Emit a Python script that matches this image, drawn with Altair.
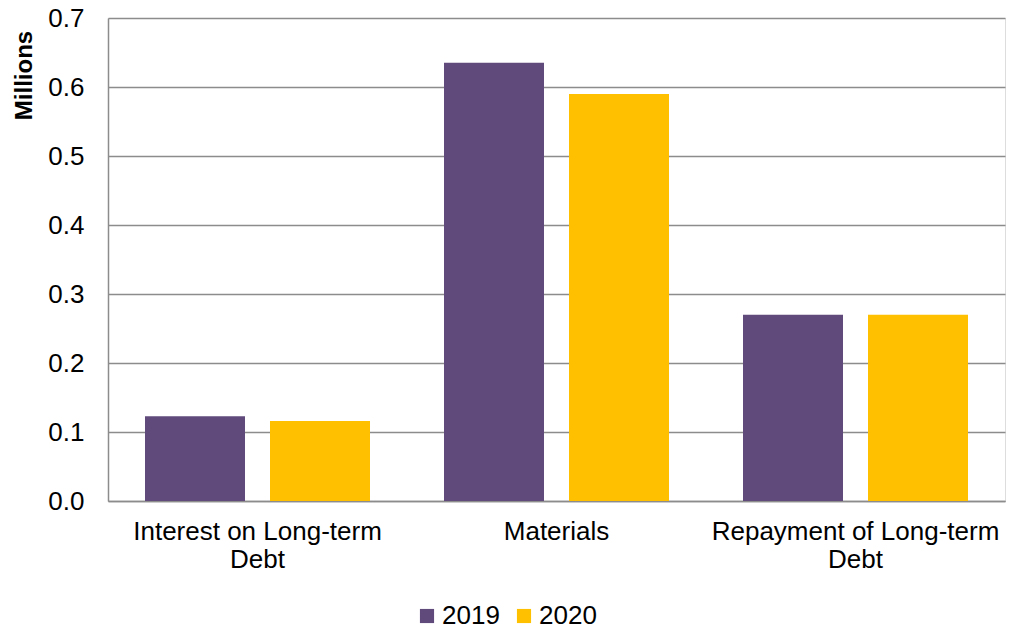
import altair as alt
import pandas as pd

categories = ["Interest on Long-term|Debt", "Materials", "Repayment of Long-term|Debt"]
years = ["2019", "2020"]
values_2019 = [0.123, 0.635, 0.270]
values_2020 = [0.116, 0.590, 0.270]

rows = []
for c, a, b in zip(categories, values_2019, values_2020):
    rows.append({"cat": c, "year": "2019", "value": a})
    rows.append({"cat": c, "year": "2020", "value": b})
df = pd.DataFrame(rows)

font = "Liberation Sans"

chart = alt.Chart(df).mark_bar().encode(
    x=alt.X("cat:N", sort=categories, title=None,
            scale=alt.Scale(paddingInner=0, paddingOuter=0),
            axis=alt.Axis(labelAngle=0, labelExpr="split(datum.label, '|')",
                          labelFontSize=26, labelFont=font, labelColor="#000000",
                          labelPadding=17, labelLineHeight=28, ticks=False,
                          labelLimit=400,
                          domainColor="#8c8c8c", domainWidth=1.5, grid=False,
                          labelBaseline="top")),
    xOffset=alt.XOffset("year:N", sort=years,
                        scale=alt.Scale(paddingInner=0.2, paddingOuter=0.296)),
    y=alt.Y("value:Q", title="Millions",
            scale=alt.Scale(domain=[0, 0.7], nice=False),
            axis=alt.Axis(values=[0, 0.1, 0.2, 0.3, 0.4, 0.5, 0.6, 0.7], format=".1f",
                          labelFontSize=26, labelFont=font, labelColor="#000000",
                          labelPadding=24, ticks=False, domainColor="#8c8c8c",
                          domainWidth=1.5, gridColor="#8c8c8c", gridWidth=1.5,
                          titleFont=font, titleFontSize=24, titleFontWeight="bold",
                          titleColor="#000000", titleAngle=-90, titleX=-84, titleY=57,
                          titleAlign="center", titleBaseline="middle")),
    color=alt.Color("year:N", sort=years,
                    scale=alt.Scale(domain=years, range=["#604A7B", "#FFC000"]),
                    legend=alt.Legend(title=None, orient="none", direction="horizontal",
                                      legendX=306, legendY=585, symbolType="square",
                                      symbolSize=200, symbolStrokeWidth=0,
                                      labelFontSize=26, labelFont=font,
                                      labelColor="#000000", columnPadding=11,
                                      labelOffset=2, padding=0)),
).properties(
    width=897, height=483,
    autosize=alt.AutoSizeParams(type="none"),
    padding={"left": 108, "top": 18, "right": 13, "bottom": 130},
).configure_view(stroke=None).configure(background="white")

chart.save("out.html", embed_options={"renderer": "svg", "actions": False})
